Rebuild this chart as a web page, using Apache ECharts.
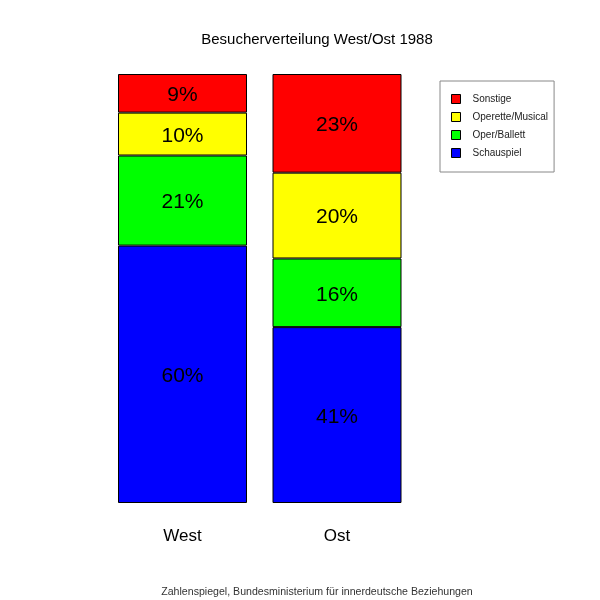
<!DOCTYPE html>
<html><head><meta charset="utf-8">
<script src="https://cdn.jsdelivr.net/npm/echarts@6/dist/echarts.min.js"></script>
<style>html,body{margin:0;padding:0;background:#fff}#c{width:600px;height:600px}</style>
</head><body><div id="c"></div>
<script>
const categories = ['West', 'Ost'];
const schauspiel = [60, 41];
const operBallett = [21, 16];
const operetteMusical = [10, 20];
const sonstige = [9, 23];
const seriesNames = ['Schauspiel', 'Oper/Ballett', 'Operette/Musical', 'Sonstige'];
const seriesColors = ['#0000ff', '#00ff00', '#ffff00', '#ff0000'];
const seriesData = [schauspiel, operBallett, operetteMusical, sonstige];

const font = '"Liberation Sans", Arial, sans-serif';
const chart = echarts.init(document.getElementById('c'));
chart.setOption({
  animation: false,
  backgroundColor: '#fff',
  title: [{
    text: 'Besucherverteilung West/Ost 1988',
    left: 312, top: 27, textAlign: 'center',
    textStyle: {fontFamily: font, fontSize: 15, fontWeight: 'normal', color: '#000'}
  }, {
    text: 'Zahlenspiegel, Bundesministerium für innerdeutsche Beziehungen',
    left: 312, top: 582, textAlign: 'center',
    textStyle: {fontFamily: font, fontSize: 10.6, fontWeight: 'normal', color: '#333'}
  }],
  legend: {
    orient: 'vertical', left: 440, top: 81,
    data: seriesNames.slice().reverse(),
    backgroundColor: '#fff', borderColor: '#888', borderWidth: 1,
    padding: [13, 6, 14, 11],
    itemWidth: 9, itemHeight: 9, itemGap: 8, icon: 'rect',
    itemStyle: {borderColor: '#000', borderWidth: 1},
    textStyle: {fontFamily: font, fontSize: 10, lineHeight: 10, color: '#222', padding: [0, 0, 0, 7]}
  },
  grid: {left: 105.25, right: 600 - 414.25, top: 74, bottom: 97},
  xAxis: {
    type: 'category', data: categories,
    axisLine: {show: false}, axisTick: {show: false},
    axisLabel: {fontFamily: font, fontSize: 17, color: '#000', margin: 25}
  },
  yAxis: {type: 'value', min: 0, max: 100, show: false},
  series: seriesNames.map((n, i) => ({
    name: n, type: 'bar', stack: 'all', barWidth: 129,
    data: seriesData[i],
    itemStyle: {color: seriesColors[i], borderColor: '#000', borderWidth: 1},
    label: {show: true, position: 'inside', formatter: '{c}%', fontFamily: font, fontSize: 21, color: '#000', offset: [0, 2]}
  }))
});
</script></body></html>
